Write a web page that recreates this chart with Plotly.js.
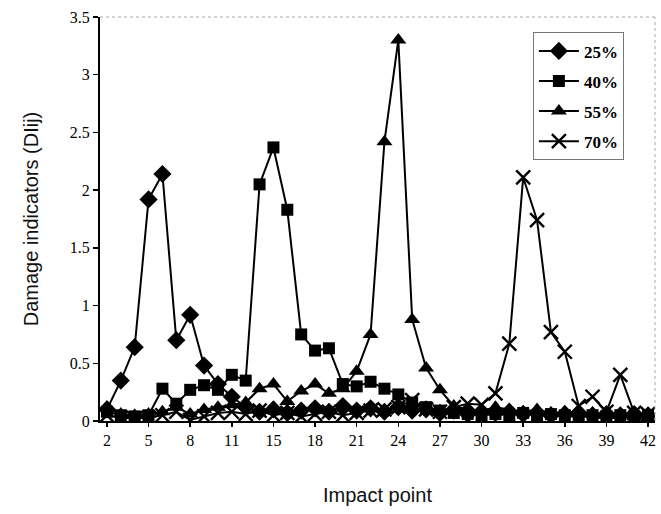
<!DOCTYPE html>
<html>
<head>
<meta charset="utf-8">
<script src="https://cdn.plot.ly/plotly-3.0.1.min.js"></script>
<style>html,body{margin:0;padding:0;background:#fff;}#chart{width:661px;height:514px;}</style>
</head>
<body>
<div id="chart"></div>
<script>
// Impact point categories (as labelled on the original axis)
const impactPoints = ["2","3","4","5","6","7","8","9","10","11","12","14","15","16","17","18","19","20","21","22","23","24","25","26","27","28","29","30","31","32","33","34","35","36","37","38","39","40","41","42"];
const tickLabels = ["2","5","8","11","15","18","21","24","27","30","33","36","39","42"];
const seriesNames = ["25%","40%","55%","70%"];

const dmg25 = [0.10,0.35,0.64,1.92,2.14,0.70,0.92,0.48,0.32,0.21,0.12,0.08,0.10,0.07,0.09,0.11,0.08,0.13,0.09,0.11,0.08,0.12,0.09,0.10,0.07,0.09,0.06,0.08,0.07,0.08,0.06,0.07,0.05,0.06,0.07,0.05,0.06,0.05,0.06,0.05];
const dmg40 = [0.08,0.05,0.04,0.05,0.28,0.15,0.27,0.31,0.27,0.40,0.35,2.05,2.37,1.83,0.75,0.61,0.63,0.32,0.30,0.34,0.28,0.23,0.16,0.12,0.09,0.07,0.06,0.05,0.06,0.05,0.07,0.05,0.06,0.05,0.04,0.05,0.04,0.05,0.04,0.05];
const dmg55 = [0.12,0.06,0.05,0.06,0.08,0.12,0.06,0.10,0.12,0.14,0.16,0.28,0.32,0.17,0.26,0.32,0.24,0.28,0.43,0.75,2.42,3.30,0.88,0.46,0.27,0.13,0.10,0.09,0.12,0.10,0.08,0.10,0.07,0.08,0.06,0.07,0.05,0.06,0.05,0.06];
const dmg70 = [0.05,0.03,0.02,0.03,0.05,0.08,0.01,0.04,0.07,0.08,0.06,0.09,0.05,0.07,0.04,0.06,0.08,0.05,0.07,0.09,0.10,0.12,0.18,0.10,0.08,0.12,0.15,0.14,0.24,0.67,2.11,1.74,0.77,0.60,0.13,0.21,0.08,0.40,0.07,0.06];

const values = [dmg25, dmg40, dmg55, dmg70];
const symbols = ["diamond","square","triangle-up","x-thin-open"];
const sizes = [14,12,14,14];

const traces = values.map((v,i) => ({
  x: impactPoints,
  y: v,
  name: seriesNames[i],
  type: "scatter",
  mode: "lines+markers",
  legendgroup: "g"+i,
  line: {color: "#000", width: 2},
  marker: {symbol: symbols[i], size: sizes[i], color: "#000", line: {color: "#000", width: i===3 ? 2.4 : 0}}
}));

const layout = {
  width: 661, height: 514,
  margin: {l: 100, r: 6, t: 17, b: 93},
  paper_bgcolor: "#fff", plot_bgcolor: "#fff",
  showlegend: true,
  legend: {
    x: 0.78, y: 0.962, xanchor: "left", yanchor: "top",
    bgcolor: "#fff", bordercolor: "#777", borderwidth: 1,
    traceorder: "grouped", tracegroupgap: 5, itemwidth: 40,
    font: {family: "Liberation Serif, Times New Roman, serif", size: 17, color: "#000", weight: "bold"}
  },
  xaxis: {
    type: "category",
    range: [-0.5, 39.5],
    tickmode: "array",
    tickvals: tickLabels,
    ticks: "outside", ticklen: 4, tickwidth: 1.5, tickcolor: "#000",
    showline: true, linecolor: "#000", linewidth: 2,
    mirror: false, showgrid: false, zeroline: false,
    tickfont: {family: "Liberation Serif, Times New Roman, serif", size: 16, color: "#000"},
    title: {text: "Impact point", standoff: 40, font: {family: "Liberation Sans, Arial, sans-serif", size: 20, color: "#111"}}
  },
  yaxis: {
    range: [0, 3.5], dtick: 0.5, tick0: 0,
    ticks: "outside", ticklen: 5, tickwidth: 1.5, tickcolor: "#000",
    showline: true, linecolor: "#000", linewidth: 2,
    showgrid: false, zeroline: false,
    tickfont: {family: "Liberation Serif, Times New Roman, serif", size: 16, color: "#000"},
    title: {text: "Damage indicators (DIij)", standoff: 26, font: {family: "Liberation Sans, Arial, sans-serif", size: 20, color: "#111"}}
  },
  shapes: [
    {type: "line", xref: "paper", yref: "paper", x0: 0, x1: 1, y0: 1, y1: 1, line: {color: "#aaa", width: 1, dash: "dot"}},
    {type: "line", xref: "paper", yref: "paper", x0: 1, x1: 1, y0: 0, y1: 1, line: {color: "#aaa", width: 1, dash: "dot"}}
  ]
};

Plotly.newPlot("chart", traces, layout, {staticPlot: true, displayModeBar: false});
</script>
</body>
</html>
